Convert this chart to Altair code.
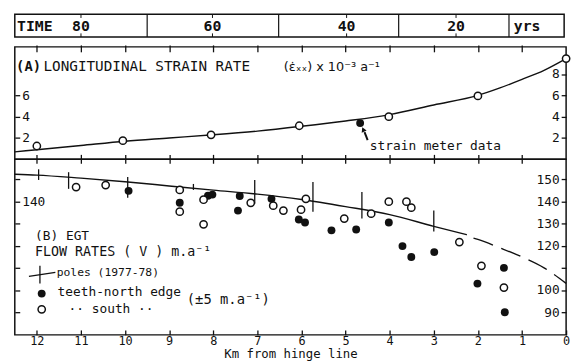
import altair as alt
import pandas as pd

FONT = "DejaVu Sans Mono"
BLACK = "#111111"
W = 559
H_T, H_A, H_B = 23, 114, 178

# ---------------- data ----------------
# time bar (years before present, placed along the km axis)
time_labels = ["80", "60", "40", "20"]
time_label_km = [11.0, 8.02, 4.98, 2.5]
time_div_km = [9.5, 6.52, 3.8, 1.3]

# (A) longitudinal strain rate, x 10^-3 a^-1
a_open_km = [12.0, 10.05, 8.05, 6.05, 4.02, 2.0, 0.0]
a_open_rate = [1.25, 1.75, 2.3, 3.15, 4.0, 5.95, 9.45]
a_meter_km = [4.67]
a_meter_rate = [3.4]
a_curve_km = [12.5, 12, 11, 10, 9, 8, 7, 6, 5, 4, 3, 2, 1.5, 1, 0.5, 0]
a_curve_rate = [0.7, 0.9, 1.3, 1.7, 2.0, 2.3, 2.65, 3.1, 3.6, 4.2, 5.1, 6.0, 6.7, 7.5, 8.35, 9.45]

# (B) flow rates, m/a
b_curve_km = [12.5, 12, 11, 10, 9, 8, 7, 6, 5, 4, 3, 2.25]
b_curve_v = [152.2, 151.8, 150.4, 148.8, 146.9, 145.0, 143.2, 140.8, 137.6, 134.0, 128.7, 124.9]
b_dash_km = [2.1, 2.0, 1.5, 1.0, 0.5, 0.0]
b_dash_v = [123.4, 122.8, 119.0, 114.9, 110.0, 103.0]

pole_km = [11.96, 11.28, 9.94, 8.45, 7.06, 5.74, 4.63, 3.0]
pole_lo = [149.6, 145.6, 141.6, 145.1, 138.9, 135.3, 132.2, 126.4]
pole_hi = [154.4, 153.1, 150.9, 147.8, 149.6, 148.7, 144.2, 135.8]

north_km = [9.92, 8.76, 8.12, 8.02, 7.40, 7.44, 6.68, 6.06, 5.92, 5.32, 4.76, 4.02, 3.71, 3.51, 2.99, 2.01, 1.41, 1.39]
north_v = [144.7, 139.3, 142.5, 143.0, 142.4, 135.8, 141.1, 131.8, 130.4, 126.9, 127.3, 130.4, 119.8, 114.9, 117.1, 102.9, 110.0, 90.0]

south_km = [11.11, 10.44, 8.76, 8.76, 8.22, 8.22, 7.15, 6.64, 6.41, 6.01, 5.9, 5.03, 4.42, 4.02, 3.62, 3.51, 2.42, 1.92, 1.41]
south_v = [146.4, 147.3, 145.1, 135.3, 140.7, 129.6, 139.3, 138.0, 135.8, 136.2, 141.1, 132.2, 134.4, 139.8, 139.8, 137.1, 121.6, 110.9, 101.1]

km_ticks = list(range(0, 13))
a_left_ticks = [2, 4, 6]
a_right_ticks = [2, 4, 6, 8]
b_ticks = [90, 100, 110, 120, 130, 140, 150]

# ---------------- helpers ----------------
XDOM = [12.5, 0]


def X(axis=None, field="km", dom=XDOM):
    return alt.X(f"{field}:Q", scale=alt.Scale(domain=dom, nice=False, zero=False), axis=axis)


def Y(dom, axis=None, field="v"):
    return alt.Y(f"{field}:Q", scale=alt.Scale(domain=dom, nice=False, zero=False), axis=axis)


def yaxis(orient, values, labelExpr=None):
    kw = dict(orient=orient, offset=-W, values=values, tickSize=5, tickWidth=1.3,
              tickColor=BLACK, labelPadding=2, domain=False, grid=False, title=None,
              labelFont=FONT, labelFontSize=13, labelColor=BLACK)
    if labelExpr:
        kw["labelExpr"] = labelExpr
    return alt.Axis(**kw)


def text_layer(df, dom, size, weight="normal", align="left", font=FONT):
    return alt.Chart(df).mark_text(font=font, fontSize=size, fontWeight=weight, align=align,
                                   baseline="middle", color=BLACK).encode(
        x=X(), y=Y(dom), text="label:N")


# ---------------- time bar ----------------
TDOM_X = [12.5, 0.05]
TDOM_Y = [0, 1]
t_div = pd.DataFrame({"km": time_div_km, "v": 0.0, "v2": 1.0})
t_tick_top = pd.DataFrame({"km": time_label_km, "v": 0.84, "v2": 1.0})
t_tick_bot = pd.DataFrame({"km": time_label_km, "v": 0.0, "v2": 0.16})
t_lab = pd.DataFrame({"km": time_label_km, "v": 0.5, "label": time_labels})
t_words = pd.DataFrame({"km": [12.45], "v": [0.5], "label": ["TIME"]})
t_yrs = pd.DataFrame({"km": [0.89], "v": [0.5], "label": ["yrs"]})

tb_rule = lambda df, w: alt.Chart(df).mark_rule(color=BLACK, strokeWidth=w).encode(
    x=X(dom=TDOM_X), y=Y(TDOM_Y), y2="v2:Q")
tb_text = lambda df, align: alt.Chart(df).mark_text(
    font=FONT, fontSize=15, fontWeight="bold", align=align, baseline="middle", color=BLACK
).encode(x=X(dom=TDOM_X), y=Y(TDOM_Y), text="label:N")

timebar = alt.layer(
    tb_rule(t_div, 1.2), tb_rule(t_tick_top, 1.0), tb_rule(t_tick_bot, 1.0),
    tb_text(t_lab, "center"), tb_text(t_words, "left"), tb_text(t_yrs, "center"),
).properties(width=W - 2, height=H_T)

# ---------------- panel A ----------------
ADOM = [0, 10.55]
a_curve = pd.DataFrame({"km": a_curve_km, "v": a_curve_rate})
a_open = pd.DataFrame({"km": a_open_km, "v": a_open_rate})
a_meter = pd.DataFrame({"km": a_meter_km, "v": a_meter_rate})
a_title0 = pd.DataFrame({"km": [12.47], "v": [8.66], "label": ["(A)"]})
a_title1 = pd.DataFrame({"km": [11.85], "v": [8.66], "label": ["LONGITUDINAL STRAIN RATE"]})
a_title2 = pd.DataFrame({"km": [6.40], "v": [8.7], "label": ["(ε̇ₓₓ) x 10⁻³ a⁻¹"]})
a_note = pd.DataFrame({"km": [4.45], "v": [1.25], "label": ["strain meter data"]})
a_arrow = pd.DataFrame({"km": [4.50, 4.57], "v": [1.8, 2.55]})
a_head = pd.DataFrame({"km": [4.60], "v": [2.8]})

ax_a_bottom = alt.Axis(orient="bottom", offset=-5, tickSize=9, tickWidth=1.3, tickColor=BLACK,
                       values=km_ticks[1:], labels=False, domain=False, grid=False, title=None)
ax_a_top = alt.Axis(orient="top", offset=-5, tickSize=7, tickWidth=1.3, tickColor=BLACK,
                    values=km_ticks[1:], labels=False, domain=False, grid=False, title=None)

panelA = alt.layer(
    alt.Chart(a_curve).mark_line(color=BLACK, strokeWidth=1.4, interpolate="monotone").encode(
        x=X(ax_a_bottom), y=Y(ADOM, yaxis("right", a_left_ticks))),
    alt.Chart(a_open).mark_point(shape="circle", filled=True, fill="white", stroke=BLACK,
                                 strokeWidth=1.5, size=55, opacity=1).encode(
        x=X(ax_a_top), y=Y(ADOM, yaxis("left", a_right_ticks))),
    alt.Chart(a_meter).mark_point(shape="circle", filled=True, color=BLACK, size=64, opacity=1).encode(
        x=X(), y=Y(ADOM)),
    alt.Chart(a_arrow).mark_line(color=BLACK, strokeWidth=2).encode(x=X(), y=Y(ADOM)),
    alt.Chart(a_head).mark_point(shape="triangle-up", filled=True, color=BLACK, size=30,
                                 angle=336, opacity=1).encode(x=X(), y=Y(ADOM)),
    text_layer(a_title0, ADOM, 14, weight="bold"),
    text_layer(a_title1, ADOM, 14.5),
    text_layer(a_title2, ADOM, 13, font="DejaVu Sans"),
    text_layer(a_note, ADOM, 13),
).resolve_axis(x="independent", y="independent").properties(width=W, height=H_A)

# ---------------- panel B ----------------
BDOM = [79.8, 158.9]
b_curve = pd.DataFrame({"km": b_curve_km, "v": b_curve_v})
b_dash = pd.DataFrame({"km": b_dash_km, "v": b_dash_v})
b_poles = pd.DataFrame({"km": pole_km, "v": pole_lo, "v2": pole_hi})
b_north = pd.DataFrame({"km": north_km, "v": north_v})
b_south = pd.DataFrame({"km": south_km, "v": south_v})

leg_pole_v = pd.DataFrame({"km": [11.93], "v": [102.9], "v2": [110.9]})
leg_pole_h = pd.DataFrame({"km": [12.18, 11.58], "v": [106.2, 108.0]})
leg_north = pd.DataFrame({"km": [11.89], "v": [98.4]})
leg_south = pd.DataFrame({"km": [11.89], "v": [91.3]})
b_txt_B = pd.DataFrame({"km": [12.04], "v": [124.2], "label": ["(B) EGT"]})
b_txt_flow = pd.DataFrame({"km": [12.04], "v": [117.1], "label": ["FLOW RATES ( V ) m.a⁻¹"]})
b_txt_poles = pd.DataFrame({"km": [11.55], "v": [107.8], "label": ["poles (1977-78)"]})
b_txt_north = pd.DataFrame({"km": [11.53], "v": [99.3], "label": ["teeth-north edge"]})
b_txt_err = pd.DataFrame({"km": [8.6], "v": [95.3], "label": ["(±5 m.a⁻¹)"]})
b_txt_south = pd.DataFrame({"km": [11.28], "v": [91.6], "label": ["··  south  ··"]})

ax_b_bottom = alt.Axis(orient="bottom", offset=-5, tickSize=5, tickWidth=1.3, tickColor=BLACK,
                       values=km_ticks, format="d", domain=False, grid=False,
                       labelFont=FONT, labelFontSize=12, labelColor=BLACK, labelPadding=1,
                       labelFlush=False, labelOverlap=False,
                       title="Km from hinge line", titleFont=FONT, titleFontSize=12.5,
                       titleFontWeight="normal", titleColor=BLACK, titlePadding=1)

panelB = alt.layer(
    alt.Chart(b_curve).mark_line(color=BLACK, strokeWidth=1.4, interpolate="monotone").encode(
        x=X(ax_b_bottom),
        y=Y(BDOM, yaxis("right", b_ticks, "datum.value == 140 ? '140' : ''"))),
    alt.Chart(b_dash).mark_line(color=BLACK, strokeWidth=1.4, strokeDash=[21, 9],
                                interpolate="monotone").encode(
        x=X(), y=Y(BDOM, yaxis("left", b_ticks, "datum.value == 110 ? '' : datum.label"))),
    alt.Chart(b_poles).mark_rule(color=BLACK, strokeWidth=1.3).encode(x=X(), y=Y(BDOM), y2="v2:Q"),
    alt.Chart(b_north).mark_point(shape="circle", filled=True, color=BLACK, size=64, opacity=1).encode(
        x=X(), y=Y(BDOM)),
    alt.Chart(b_south).mark_point(shape="circle", filled=True, fill="white", stroke=BLACK,
                                  strokeWidth=1.5, size=55, opacity=1).encode(x=X(), y=Y(BDOM)),
    alt.Chart(leg_pole_v).mark_rule(color=BLACK, strokeWidth=1.3).encode(x=X(), y=Y(BDOM), y2="v2:Q"),
    alt.Chart(leg_pole_h).mark_line(color=BLACK, strokeWidth=1.3).encode(x=X(), y=Y(BDOM)),
    alt.Chart(leg_north).mark_point(shape="circle", filled=True, color=BLACK, size=64, opacity=1).encode(
        x=X(), y=Y(BDOM)),
    alt.Chart(leg_south).mark_point(shape="circle", filled=True, fill="white", stroke=BLACK,
                                    strokeWidth=1.5, size=55, opacity=1).encode(x=X(), y=Y(BDOM)),
    text_layer(b_txt_B, BDOM, 13),
    text_layer(b_txt_flow, BDOM, 13.5),
    text_layer(b_txt_poles, BDOM, 11.5),
    text_layer(b_txt_north, BDOM, 13),
    text_layer(b_txt_err, BDOM, 14),
    text_layer(b_txt_south, BDOM, 13),
).resolve_axis(x="independent", y="independent").properties(width=W, height=H_B)

inner = alt.vconcat(panelA, panelB, spacing=0, bounds="flush")
chart = alt.vconcat(timebar, inner, spacing=10, bounds="flush").properties(
    padding={"left": 11, "top": 10, "right": 0, "bottom": 0},
    background="white",
).configure_view(stroke=BLACK, strokeWidth=1.5)

chart.save("out.html", embed_options={"renderer": "svg", "actions": False})
